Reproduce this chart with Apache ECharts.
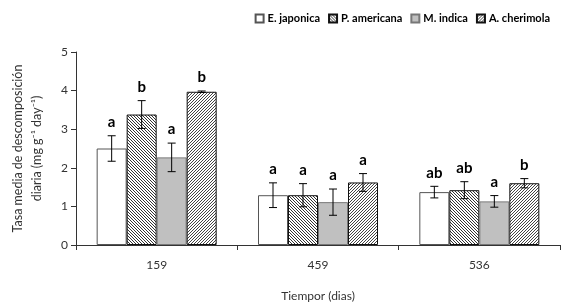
<!DOCTYPE html>
<html>
<head>
<meta charset="utf-8">
<script src="https://cdn.jsdelivr.net/npm/echarts@6/dist/echarts.min.js"></script>
<style>
  html, body { margin: 0; padding: 0; background: #fff; }
  #chart { width: 562px; height: 307px; }
</style>
</head>
<body>
<div id="chart"></div>
<script>
// datos
const tiempos = ['159', '459', '536'];
const especies = ['E. japonica', 'P. americana', 'M. indica', 'A. cherimola'];

const japonica = [2.50, 1.29, 1.37];
const americana = [3.38, 1.29, 1.42];
const indica = [2.27, 1.11, 1.13];
const cherimola = [3.97, 1.62, 1.60];

const errJaponica = [0.33, 0.32, 0.15];
const errAmericana = [0.36, 0.30, 0.22];
const errIndica = [0.37, 0.34, 0.15];
const errCherimola = [0.02, 0.23, 0.12];

const letrasJaponica = ['a', 'a', 'ab'];
const letrasAmericana = ['b', 'a', 'ab'];
const letrasIndica = ['a', 'a', 'a'];
const letrasCherimola = ['b', 'a', 'b'];

const yTicks = [0, 1, 2, 3, 4, 5];

// rayado para las barras
function hatch(dir, step, col) {
    const c = document.createElement('canvas');
    c.width = step;
    c.height = step;
    const ctx = c.getContext('2d');
    ctx.fillStyle = '#fff';
    ctx.fillRect(0, 0, step, step);
    ctx.strokeStyle = col;
    ctx.lineWidth = 1;
    for (let k = -1; k <= 1; k++) {
        ctx.beginPath();
        if (dir === 'back') {
            ctx.moveTo(k * step, 0);
            ctx.lineTo(k * step + step, step);
        } else {
            ctx.moveTo(k * step, step);
            ctx.lineTo(k * step + step, 0);
        }
        ctx.stroke();
    }
    return c;
}

const barW = 30;
const valores = [japonica, americana, indica, cherimola];
const errores = [errJaponica, errAmericana, errIndica, errCherimola];
const letras = [letrasJaponica, letrasAmericana, letrasIndica, letrasCherimola];
const estilos = [
    { color: '#ffffff', borderColor: '#555', borderWidth: 1 },
    { color: { image: hatch('back', 3, '#333'), repeat: 'repeat' }, borderColor: '#111', borderWidth: 1 },
    { color: '#c0c0c0', borderColor: '#777', borderWidth: 1 },
    { color: { image: hatch('fwd', 3, '#444'), repeat: 'repeat' }, borderColor: '#111', borderWidth: 1 }
];

const chart = echarts.init(document.getElementById('chart'));
const fuente = 'Lato, "DejaVu Sans", sans-serif';

const series = [];
especies.forEach((nombre, i) => {
    series.push({
        name: nombre,
        type: 'bar',
        barWidth: barW,
        barGap: '0%',
        data: valores[i],
        itemStyle: estilos[i],
        emphasis: { disabled: true }
    });
});

// barras de error y letras
especies.forEach((nombre, i) => {
    const offset = (i - 1.5) * barW;
    series.push({
        type: 'custom',
        silent: true,
        z: 10,
        data: valores[i].map((v, j) => [j, v, errores[i][j]]),
        renderItem(params, api) {
            const j = api.value(0);
            const v = api.value(1);
            const e = api.value(2);
            const top = api.coord([j, v + e]);
            const bot = api.coord([j, v - e]);
            const x = top[0] + offset;
            const cap = 4;
            const st = { stroke: '#000', lineWidth: 1 };
            return {
                type: 'group',
                children: [
                    { type: 'line', shape: { x1: x, y1: top[1], x2: x, y2: bot[1] }, style: st },
                    { type: 'line', shape: { x1: x - cap, y1: top[1], x2: x + cap, y2: top[1] }, style: st },
                    { type: 'line', shape: { x1: x - cap, y1: bot[1], x2: x + cap, y2: bot[1] }, style: st },
                    {
                        type: 'text',
                        style: {
                            text: letras[i][j],
                            x: x,
                            y: top[1] - 6,
                            align: 'center',
                            verticalAlign: 'bottom',
                            fontSize: 15,
                            fontWeight: 'bold',
                            fontFamily: fuente,
                            fill: '#000'
                        }
                    }
                ]
            };
        }
    });
});

chart.setOption({
    animation: false,
    legend: {
        data: especies,
        icon: 'rect',
        right: 7,
        top: 8,
        itemWidth: 8,
        itemHeight: 8,
        itemGap: 8,
        textStyle: { fontSize: 11, fontWeight: 'bold', fontFamily: fuente, color: '#000', padding: [0, 0, 0, -1] }
    },
    grid: { left: 70, right: 2, top: 52, bottom: 61 },
    xAxis: {
        type: 'category',
        data: tiempos,
        name: 'Tiempor (dias)',
        nameLocation: 'middle',
        nameGap: 45,
        nameTextStyle: { fontSize: 12, fontFamily: fuente, color: '#333' },
        axisLine: { lineStyle: { color: '#333' } },
        axisTick: { show: true, alignWithLabel: false, length: 5, lineStyle: { color: '#333' } },
        axisLabel: { fontSize: 12, fontFamily: fuente, color: '#333', margin: 14 }
    },
    yAxis: {
        type: 'value',
        min: yTicks[0],
        max: yTicks[yTicks.length - 1],
        interval: 1,
        name: 'Tasa media de descomposición\ndiaria (mg g⁻¹ day⁻¹)',
        nameLocation: 'middle',
        nameGap: 30,
        nameTextStyle: { fontSize: 12.5, fontFamily: fuente, color: '#333', lineHeight: 19 },
        axisLine: { show: true, lineStyle: { color: '#333' } },
        axisTick: { show: true, length: 5, lineStyle: { color: '#333' } },
        splitLine: { show: false },
        axisLabel: { fontSize: 12, fontFamily: fuente, color: '#333', margin: 8 }
    },
    series: series
});
</script>
</body>
</html>
